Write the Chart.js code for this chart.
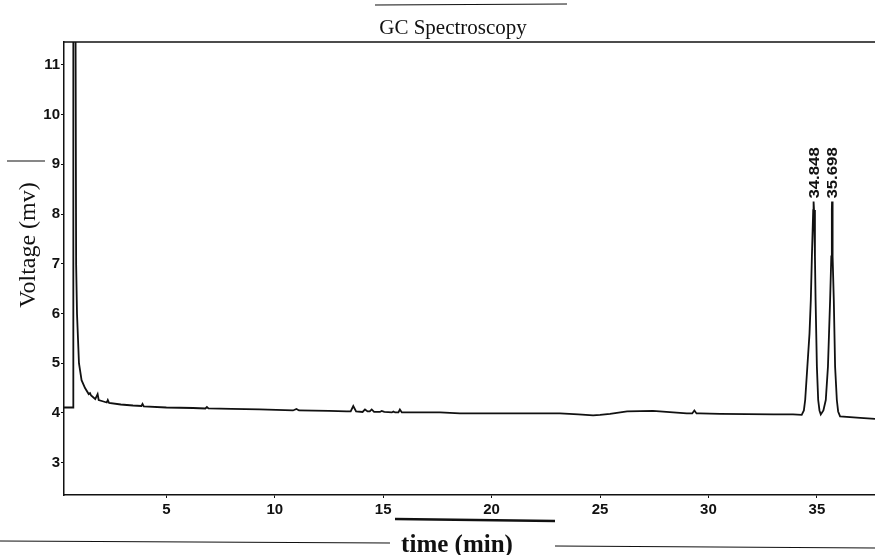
<!DOCTYPE html>
<html>
<head>
<meta charset="utf-8">
<title>GC Spectroscopy</title>
<script src="https://cdn.jsdelivr.net/npm/chart.js@4.4.1/dist/chart.umd.min.js"></script>
<style>
  html, body { margin: 0; padding: 0; background: #fff; }
  canvas { display: block; }
</style>
</head>
<body>
<canvas id="gcChart" width="875" height="555"></canvas>
<script>
// retention time (min) and detector signal (mV) of the trace
const times = [
    0.28, 0.70, 0.71, 0.80, 0.84, 0.88, 0.97, 1.09, 1.25, 1.42,
    1.48, 1.53, 1.72, 1.83, 1.88, 2.10, 2.25, 2.30, 2.36, 2.90,
    3.46, 3.85, 3.90, 3.96, 5.00, 6.23, 6.80, 6.87, 6.94, 8.00,
    9.30, 10.84, 11.00, 11.12, 12.50, 13.32, 13.50, 13.62, 13.75, 14.05,
    14.16, 14.28, 14.38, 14.47, 14.58, 14.85, 14.93, 15.05, 15.40, 15.47,
    15.55, 15.70, 15.77, 15.86, 17.62, 18.54, 20.50, 22.23, 23.15, 24.00,
    24.68, 25.00, 25.46, 26.25, 27.44, 28.37, 29.00, 29.25, 29.35, 29.45,
    29.60, 30.53, 33.00, 33.90, 34.30, 34.40, 34.46, 34.56, 34.66, 34.72,
    34.77, 34.83, 34.848, 34.868, 34.91, 34.94, 35.00, 35.06, 35.12, 35.18,
    35.30, 35.41, 35.51, 35.61, 35.665, 35.69, 35.698, 35.71, 35.74, 35.78,
    35.84, 35.92, 35.98, 36.07, 37.00, 37.68
];
const voltages = [
    4.11, 4.11, 14.0, 14.0, 6.98, 5.99, 5.00, 4.66, 4.50, 4.38,
    4.40, 4.35, 4.28, 4.38, 4.26, 4.23, 4.21, 4.26, 4.20, 4.17,
    4.15, 4.14, 4.18, 4.13, 4.11, 4.10, 4.09, 4.12, 4.09, 4.08,
    4.07, 4.05, 4.08, 4.05, 4.04, 4.03, 4.03, 4.14, 4.03, 4.02,
    4.07, 4.03, 4.03, 4.07, 4.02, 4.02, 4.04, 4.02, 4.01, 4.03,
    4.01, 4.01, 4.07, 4.01, 4.01, 3.99, 3.99, 3.99, 3.99, 3.97,
    3.95, 3.96, 3.98, 4.03, 4.04, 4.01, 3.99, 3.99, 4.05, 3.99,
    3.99, 3.98, 3.97, 3.97, 3.96, 4.05, 4.26, 4.93, 5.60, 6.27,
    7.15, 8.08, 8.25, 8.08, 7.15, 6.27, 4.93, 4.26, 4.05, 3.97,
    4.05, 4.26, 4.93, 6.27, 7.15, 8.08, 8.25, 8.08, 7.15, 6.27,
    4.93, 4.26, 4.03, 3.93, 3.90, 3.88
];

// annotated retention times
const peakTimes = [34.848, 35.698];
const peakLabels = ['34.848', '35.698'];

const xTicks = [5, 10, 15, 20, 25, 30, 35];
const yTicks = [3, 4, 5, 6, 7, 8, 9, 10, 11];

const INK = '#111';

const points = times.map((t, i) => ({ x: t, y: voltages[i] }));

// title, axis names, peak retention labels and the frame line on top
const annotate = {
    id: 'annotate',
    afterDraw(chart) {
        const ctx = chart.ctx;
        const area = chart.chartArea;
        const xs = chart.scales.x;
        const ys = chart.scales.y;

        ctx.save();
        ctx.strokeStyle = INK;
        ctx.lineWidth = 1.5;
        ctx.beginPath();
        ctx.moveTo(area.left, area.top);
        ctx.lineTo(area.right, area.top);
        ctx.stroke();

        // ruled marks on the sheet
        ctx.lineWidth = 1.2;
        ctx.beginPath();
        ctx.moveTo(375, 5); ctx.lineTo(567, 4);
        ctx.moveTo(7, 161); ctx.lineTo(45, 161);
        ctx.moveTo(0, 541); ctx.lineTo(390, 543);
        ctx.moveTo(555, 546); ctx.lineTo(875, 548);
        ctx.stroke();
        ctx.lineWidth = 2.5;
        ctx.beginPath();
        ctx.moveTo(395, 519); ctx.lineTo(555, 521);
        ctx.stroke();

        ctx.fillStyle = INK;
        ctx.textAlign = 'center';
        ctx.textBaseline = 'middle';

        ctx.font = '21px "Liberation Serif"';
        ctx.fillText('GC Spectroscopy', 453, 28);

        ctx.font = 'bold 25px "Liberation Serif"';
        ctx.fillText('time (min)', 457, 546);

        ctx.save();
        ctx.translate(29, 245);
        ctx.rotate(-Math.PI / 2);
        ctx.font = '24px "Liberation Serif"';
        ctx.fillText('Voltage (mv)', 0, 0);
        ctx.restore();

        ctx.font = 'bold 14px "Liberation Sans"';
        ctx.textAlign = 'left';
        peakTimes.forEach((t, i) => {
            const v = voltages[times.indexOf(t)];
            const px = xs.getPixelForValue(t);
            const py = ys.getPixelForValue(v);
            ctx.save();
            ctx.translate(px + 1.5, py - 3);
            ctx.rotate(-Math.PI / 2);
            ctx.scale(1.2, 1);
            ctx.fillText(peakLabels[i], 0, 0);
            ctx.restore();
        });
        ctx.restore();
    }
};

new Chart(document.getElementById('gcChart'), {
    type: 'line',
    data: {
        datasets: [{
            data: points,
            borderColor: INK,
            borderWidth: 1.8,
            pointRadius: 0,
            tension: 0,
            fill: false
        }]
    },
    options: {
        responsive: false,
        animation: false,
        events: [],
        layout: { padding: { top: 42, right: 0, bottom: 0, left: 0 } },
        plugins: {
            legend: { display: false },
            tooltip: { enabled: false },
            title: { display: false }
        },
        scales: {
            x: {
                type: 'linear',
                min: 0.28,
                max: 37.68,
                bounds: 'data',
                afterFit: function (scale) { scale.height = 60; },
                afterBuildTicks: function (scale) {
                    scale.ticks = xTicks.map(v => ({ value: v }));
                },
                grid: { drawOnChartArea: false, tickLength: 3, color: INK, lineWidth: 1 },
                border: { color: INK, width: 1.5 },
                ticks: {
                    color: INK,
                    padding: 3,
                    maxRotation: 0,
                    font: { family: 'Liberation Sans', size: 15, weight: 'bold' }
                }
            },
            y: {
                type: 'linear',
                min: 2.35,
                max: 11.46,
                bounds: 'data',
                afterFit: function (scale) { scale.width = 64; },
                afterBuildTicks: function (scale) {
                    scale.ticks = yTicks.map(v => ({ value: v }));
                },
                grid: { drawOnChartArea: false, tickLength: 3, color: INK, lineWidth: 1 },
                border: { color: INK, width: 1.5 },
                ticks: {
                    color: INK,
                    padding: 1,
                    font: { family: 'Liberation Sans', size: 15, weight: 'bold' }
                }
            }
        }
    },
    plugins: [annotate]
});
</script>
</body>
</html>
